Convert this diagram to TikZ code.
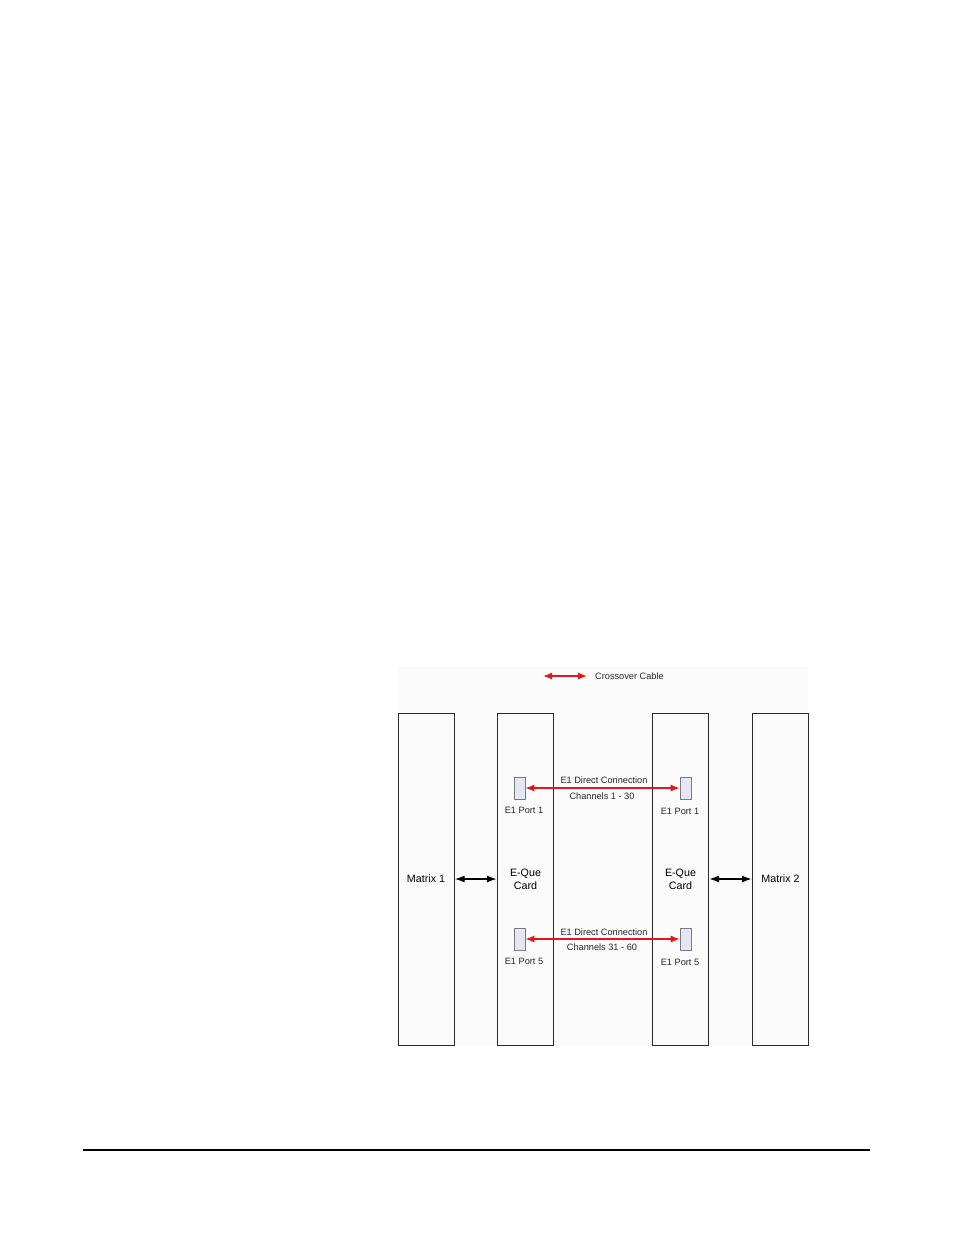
\documentclass[tikz,border=0pt]{standalone}
\usepackage{fontspec}
\setmainfont{Liberation Sans}
\usetikzlibrary{arrows.meta}
\definecolor{bgpanel}{HTML}{FBFBFB}
\definecolor{boxline}{HTML}{2A2A2A}
\definecolor{portfill}{HTML}{E4E7F3}
\definecolor{portline}{HTML}{7A7A80}
\definecolor{cablered}{HTML}{E8141B}
\tikzset{
  column/.style={draw=boxline, line width=1pt, fill=bgpanel, minimum width=56pt, minimum height=332pt, inner sep=0pt, font=\fontsize{10.7}{13}\selectfont, align=center},
  port/.style={draw=portline, line width=0.6pt, fill=portfill, minimum width=11pt, minimum height=22pt, inner sep=0pt},
  smalltext/.style={font=\fontsize{9.2}{11}\selectfont, text=black!85, inner sep=0pt},
  cable/.style={draw=cablered, line width=1.3pt, {Latex[length=9pt,width=7pt]}-{Latex[length=9pt,width=7pt]}},
  link/.style={draw=black, line width=1.7pt, {Latex[length=10pt,width=7pt]}-{Latex[length=10pt,width=7pt]}}
}
\begin{document}
\begin{tikzpicture}[x=1pt,y=-1pt]
\useasboundingbox (0,0) rectangle (954,1235);
\fill[bgpanel] (398,667) rectangle (808,1046);
% legend
\coordinate (legA) at (543,676);
\coordinate (legB) at (587,676);
\draw[cable] (legA) -- (legB);
\node[smalltext, anchor=west] (legtext) at (595,676) {Crossover Cable};
% columns
\node[column] (m1) at (426,879) {Matrix 1};
\node[column] (c1) at (525.5,879) {E-Que\\Card};
\node[column] (c2) at (680.5,879) {E-Que\\Card};
\node[column] (m2) at (780.5,879) {Matrix 2};
% ports
\node[port] (p1l) at (519.5,788) {};
\node[port] (p1r) at (685.5,788) {};
\node[port] (p5l) at (519.5,939) {};
\node[port] (p5r) at (685.5,939) {};
\node[smalltext] (p1llab) at (524,810) {E1 Port 1};
\node[smalltext] (p1rlab) at (680,811) {E1 Port 1};
\node[smalltext] (p5llab) at (524,961) {E1 Port 5};
\node[smalltext] (p5rlab) at (680,962) {E1 Port 5};
% cables
\draw[cable] (p1l.east) -- (p1r.west);
\draw[cable] (p5l.east) -- (p5r.west);
\node[smalltext] (t1a) at (604,780) {E1 Direct Connection};
\node[smalltext] (t1b) at (602,796) {Channels 1 - 30};
\node[smalltext] (t5a) at (604,932) {E1 Direct Connection};
\node[smalltext] (t5b) at (602,947) {Channels 31 - 60};
% links
\draw[link] (m1.east) -- (c1.west);
\draw[link] (c2.east) -- (m2.west);
% footer rule
\draw[line width=1.5pt] (83,1150) -- (870,1150);
\end{tikzpicture}
\end{document}
